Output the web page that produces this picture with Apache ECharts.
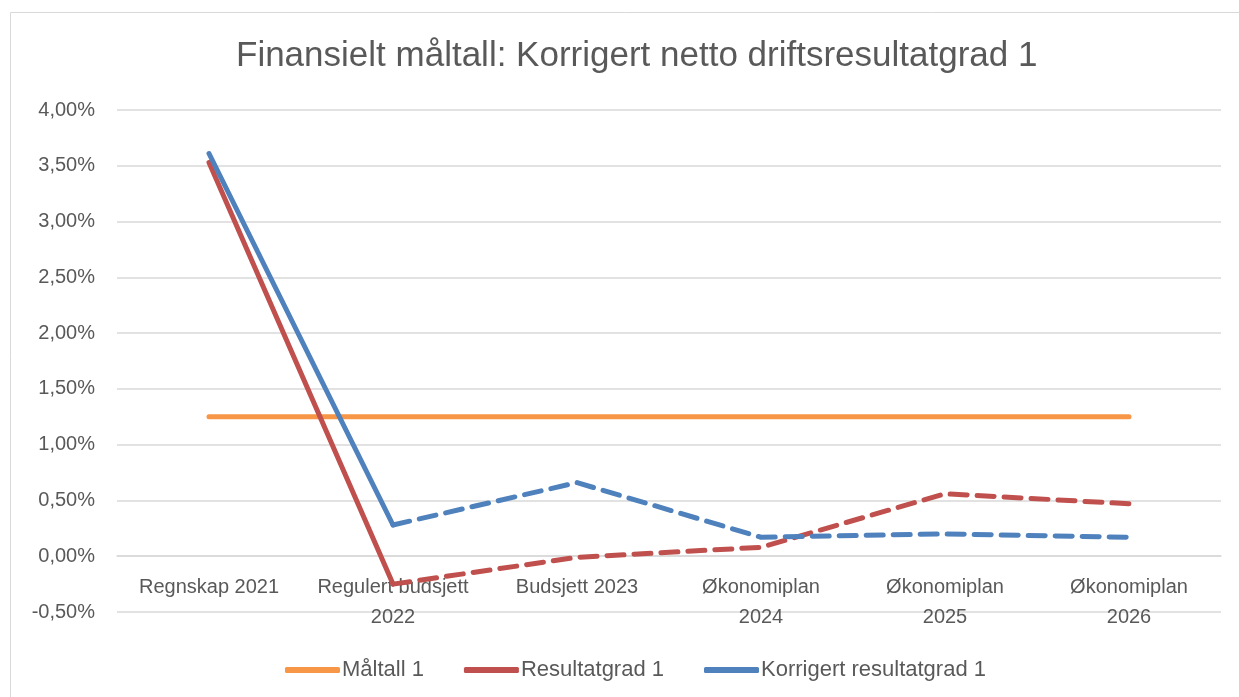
<!DOCTYPE html>
<html><head><meta charset="utf-8">
<script src="https://cdn.jsdelivr.net/npm/echarts@6/dist/echarts.min.js"></script>
<style>html,body{margin:0;padding:0;background:#fff}#c{width:1239px;height:697px}</style>
</head><body><div id="c"></div>
<script>
const categories = ['Regnskap 2021', 'Regulert budsjett\n2022', 'Budsjett 2023', 'Økonomiplan\n2024', 'Økonomiplan\n2025', 'Økonomiplan\n2026'];
const maltall = [1.25, 1.25, 1.25, 1.25, 1.25, 1.25];
const resultatgrad = [3.53, -0.25, -0.01, 0.08, 0.56, 0.47];
const korrigert = [3.61, 0.28, 0.66, 0.17, 0.20, 0.17];
const yTicks = { min: -0.5, max: 4, interval: 0.5 };

const solidPart = a => a.map((v, i) => i <= 1 ? v : null);
const dashPart = a => a.map((v, i) => i >= 1 ? v : null);
const FONT = 'Liberation Sans, sans-serif';
const line = (name, data, color, dashed, z) => ({
  name, type: 'line', data, symbol: 'none', z,
  connectNulls: false,
  lineStyle: { color, width: 5, type: dashed ? [17, 10] : 'solid', cap: 'round', join: 'round' },
  itemStyle: { color }
});

const GRID_TOP = 110, GRID_BOTTOM = 85, H = 697;
const plotH = H - GRID_TOP - GRID_BOTTOM;
const zeroOffset = -plotH * (0 - yTicks.min) / (yTicks.max - yTicks.min);

const chart = echarts.init(document.getElementById('c'), null, { renderer: 'canvas' });
chart.setOption({
  animation: false,
  backgroundColor: '#fff',
  title: {
    text: 'Finansielt måltall: Korrigert netto driftsresultatgrad 1',
    left: 231, top: 34,
    textStyle: { fontFamily: FONT, fontSize: 35, fontWeight: 'normal', color: '#595959' }
  },
  graphic: [{ type: 'rect', shape: { x: 10.5, y: 12.5, width: 1240, height: 700 }, style: { fill: 'none', stroke: '#d9d9d9', lineWidth: 1 } }],
  legend: {
    top: 654, left: 280, itemWidth: 55, itemHeight: 6, itemGap: 40,
    icon: 'roundRect',
    textStyle: { fontFamily: FONT, fontSize: 22, color: '#595959', padding: [0, 0, 0, -3] },
    data: ['Måltall 1', 'Resultatgrad 1', 'Korrigert resultatgrad 1']
  },
  grid: { left: 117, right: 18, top: GRID_TOP, bottom: GRID_BOTTOM },
  xAxis: {
    type: 'category', data: categories, boundaryGap: true,
    offset: zeroOffset,
    axisLine: { onZero: false, lineStyle: { color: '#d9d9d9', width: 1.5 } },
    axisTick: { show: false },
    axisLabel: { fontFamily: FONT, fontSize: 20, color: '#595959', margin: 16, lineHeight: 30, interval: 0 }
  },
  yAxis: {
    type: 'value', min: yTicks.min, max: yTicks.max, interval: yTicks.interval,
    axisLine: { show: false }, axisTick: { show: false },
    splitLine: { lineStyle: { color: '#d9d9d9', width: 1.5 } },
    axisLabel: { fontFamily: FONT, fontSize: 20, color: '#595959', margin: 22,
      formatter: v => v.toFixed(2).replace('.', ',') + '%' }
  },
  series: [
    line('Måltall 1', maltall, '#f79646', false, 2),
    line('Resultatgrad 1', solidPart(resultatgrad), '#c0504d', false, 3),
    line('Resultatgrad 1', dashPart(resultatgrad), '#c0504d', true, 3),
    line('Korrigert resultatgrad 1', solidPart(korrigert), '#4f81bd', false, 4),
    line('Korrigert resultatgrad 1', dashPart(korrigert), '#4f81bd', true, 4)
  ]
});
</script></body></html>
